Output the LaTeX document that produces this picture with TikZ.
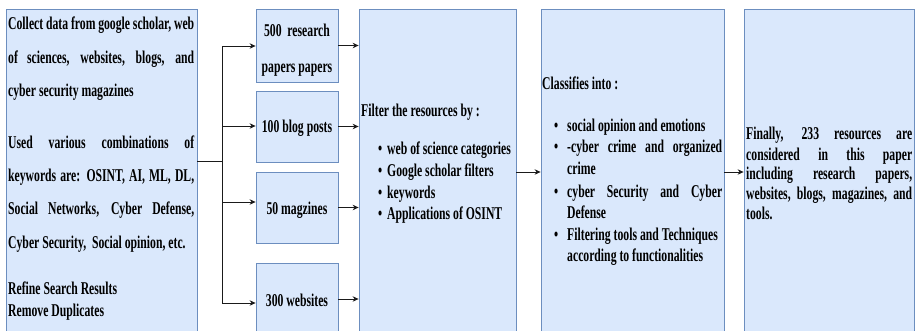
\documentclass[tikz,border=0pt]{standalone}
\usepackage{fontspec}
\setmainfont{Liberation Serif}[FakeStretch=0.65]
\usetikzlibrary{arrows.meta}
\definecolor{boxfill}{HTML}{DAE8FC}
\definecolor{boxline}{HTML}{6C8EBF}
\definecolor{wirecol}{HTML}{1A1A1A}
% one justified line of the given width
\newcommand\jline[2]{\makebox[#1][s]{#2}}
\begin{document}
\begin{tikzpicture}[x=1pt,y=-1pt,
  panel/.style={draw=boxline, fill=boxfill, line width=0.8pt, inner sep=0pt},
  txt/.style={anchor=base west, inner sep=0pt, yshift=-0.6pt, font=\fontsize{18}{21}\selectfont\bfseries},
  ctxt/.style={anchor=base, inner sep=0pt, yshift=-0.6pt, font=\fontsize{18}{21}\selectfont\bfseries},
  wire/.style={draw=wirecol, line width=0.9pt},
  arr/.style={wire, -{Stealth[length=6pt,width=5.5pt]}}]
\useasboundingbox (0,0) rectangle (916,330);
\clip (0,0) rectangle (916,330);

% panels
\node[panel, minimum width=191pt, minimum height=326pt] (src)  at (101.5,172) {};
\node[panel, minimum width=82pt,  minimum height=73pt]  (b1)   at (297,45.5) {};
\node[panel, minimum width=82pt,  minimum height=71pt]  (b2)   at (297,126.5) {};
\node[panel, minimum width=82pt,  minimum height=71pt]  (b3)   at (297,207.5) {};
\node[panel, minimum width=82pt,  minimum height=72pt]  (b4)   at (297,299) {};
\node[panel, minimum width=157pt, minimum height=326pt] (filt) at (437.5,172) {};
\node[panel, minimum width=183pt, minimum height=326pt] (cls)  at (632.5,172) {};
\node[panel, minimum width=170pt, minimum height=326pt] (fin)  at (829,172) {};

% source text
\foreach \yy/\tx [count=\i] in {
  28.5/{\jline{186pt}{Collect data from google scholar, web}},
  62.5/{\jline{186pt}{of sciences, websites, blogs, and}},
  95.5/{cyber security magazines},
  147.5/{\jline{186pt}{Used various combinations of}},
  180.5/{\jline{186pt}{keywords are: OSINT, AI, ML, DL,}},
  213.5/{\jline{186pt}{Social Networks, Cyber Defense,}},
  247.5/{Cyber Security,\ \ Social opinion, etc.},
  293.5/{Refine Search Results},
  315.5/{Remove Duplicates}}
  \node[txt] (s\i) at (8,\yy) {\tx};

% counts
\node[ctxt] (c1a) at (297,35.5)  {500\ \ research};
\node[ctxt] (c1b) at (297,71.5)  {papers papers};
\node[ctxt] (c2)  at (297,131.5) {100 blog posts};
\node[ctxt] (c3)  at (297,213.5) {50 magzines};
\node[ctxt] (c4)  at (297,305.5) {300 websites};

% filtering
\node[txt] (fh) at (361,115.5) {Filter the resources by :};
\foreach \yy/\tx [count=\i] in {
  153.5/{web of science categories},
  175.5/{Google scholar filters},
  197.5/{keywords},
  218.5/{Applications of OSINT}}
{
  \node[txt] (fd\i) at (378,\yy) {\textbullet};
  \node[txt] (f\i)  at (387,\yy) {\tx};
}

% classification
\node[txt] (kh) at (542,88.5) {Classifies into :};
\node[txt] (kd1) at (554,130.5) {\textbullet};
\node[txt] (k1)  at (567,130.5) {social opinion and emotions};
\node[txt] (kd2) at (554,151.5) {\textbullet};
\node[txt] (k2)  at (567,151.5) {\jline{155pt}{-cyber crime and organized}};
\node[txt] (k2b) at (567,173.5) {crime};
\node[txt] (kd3) at (554,196.5) {\textbullet};
\node[txt] (k3)  at (567,196.5) {\jline{155pt}{cyber Security and Cyber}};
\node[txt] (k3b) at (567,217.5) {Defense};
\node[txt] (kd4) at (554,239.5) {\textbullet};
\node[txt] (k4)  at (567,239.5) {Filtering tools and Techniques};
\node[txt] (k4b) at (567,260.5) {according to functionalities};

% result
\foreach \yy/\tx [count=\i] in {
  138.5/{\jline{166pt}{Finally, 233 resources are}},
  159.5/{\jline{166pt}{considered in this paper}},
  178.5/{\jline{166pt}{including research papers,}},
  198.5/{\jline{166pt}{websites, blogs, magazines, and}},
  218.5/{tools.}}
  \node[txt] (r\i) at (746,\yy) {\tx};

% connectors
\coordinate (split) at (222,161);
\coordinate (j1) at (222,46);
\coordinate (j2) at (222,126);
\coordinate (j3) at (222,202);
\coordinate (j4) at (222,303);
\draw[wire] (src.east |- split) -- (split);
\draw[wire] (j1) -- (j4);
\draw[arr] (j1) -- (j1 -| b1.west);
\draw[arr] (j2) -- (j2 -| b2.west);
\draw[arr] (j3) -- (j3 -| b3.west);
\draw[arr] (j4) -- (j4 -| b4.west);
\draw[arr] (b1.east) -- (b1.east -| filt.west);
\draw[arr] (b2.east) -- (b2.east -| filt.west);
\draw[arr] (b3.east) -- (b3.east -| filt.west);
\draw[arr] (b4.east) -- (b4.east -| filt.west);
\draw[arr] (filt.east) -- (cls.west);
\draw[arr] (cls.east) -- (fin.west);
\end{tikzpicture}
\end{document}
